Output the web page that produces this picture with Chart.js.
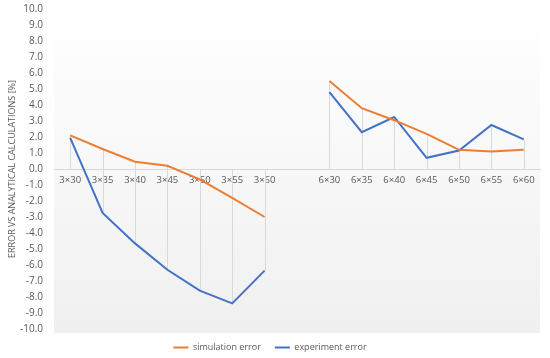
<!DOCTYPE html>
<html><head><meta charset="utf-8">
<script src="https://cdn.jsdelivr.net/npm/chart.js@4.4.0/dist/chart.umd.min.js"></script>
<style>html,body{margin:0;padding:0;background:#fff}#wrap{width:550px;height:358px}</style>
</head><body><div id="wrap"><canvas id="c" width="550" height="358"></canvas></div>
<script>
const categories = ['3×30','3×35','3×40','3×45','3×50','3×55','3×60','','6×30','6×35','6×40','6×45','6×50','6×55','6×60'];
const simulationError = [2.1, 1.25, 0.45, 0.2, -0.65, -1.8, -3.0, null, 5.5, 3.8, 3.05, 2.2, 1.2, 1.1, 1.2];
const experimentError = [1.95, -2.75, -4.65, -6.3, -7.6, -8.4, -6.35, null, 4.8, 2.3, 3.25, 0.7, 1.15, 2.75, 1.85];
const seriesNames = ['simulation error', 'experiment error'];
const yTitle = 'ERROR VS ANALYTICAL CALCULATIONS [%]';

const FONT = '"Open Sans", sans-serif';
const TXT = '#595959';

const bgPlugin = {
  id: 'plotBg',
  beforeDraw(chart) {
    const {ctx, chartArea: a} = chart;
    const g = ctx.createLinearGradient(0, a.top, 0, a.bottom);
    g.addColorStop(0, '#ffffff');
    g.addColorStop(1, '#f0f0f0');
    ctx.save();
    ctx.fillStyle = g;
    ctx.fillRect(a.left, a.top, a.right - a.left, a.bottom - a.top + 4);
    ctx.restore();
  }
};
const dropLines = {
  id: 'dropLines',
  beforeDatasetsDraw(chart) {
    const {ctx, scales: {x, y}} = chart;
    ctx.save();
    ctx.strokeStyle = '#d9d9d9';
    ctx.lineWidth = 1;
    categories.forEach((c, i) => {
      const vals = chart.data.datasets.map(d => d.data[i]).filter(v => v !== null && v !== undefined);
      if (!vals.length) return;
      const hi = Math.max(0, ...vals), lo = Math.min(0, ...vals);
      const px = Math.round(x.getPixelForValue(i)) + 0.5;
      ctx.beginPath();
      ctx.moveTo(px, y.getPixelForValue(hi));
      ctx.lineTo(px, y.getPixelForValue(lo));
      ctx.stroke();
    });
    ctx.restore();
  }
};

new Chart(document.getElementById('c'), {
  type: 'line',
  data: {
    labels: categories,
    datasets: [
      {label: seriesNames[0], data: simulationError, borderColor: '#ED7D31', backgroundColor: '#ED7D31', borderWidth: 2, pointRadius: 0, tension: 0, spanGaps: false},
      {label: seriesNames[1], data: experimentError, borderColor: '#4472C4', backgroundColor: '#4472C4', borderWidth: 2, pointRadius: 0, tension: 0, spanGaps: false}
    ]
  },
  options: {
    responsive: false,
    animation: false,
    layout: {padding: {top: 0, right: 10, left: 0, bottom: -4}},
    plugins: {
      legend: {
        position: 'bottom',
        labels: {font: {family: FONT, size: 9}, color: TXT, usePointStyle: true, pointStyle: 'line', pointStyleWidth: 15, boxHeight: 9, padding: 14}
      },
      tooltip: {enabled: false}
    },
    scales: {
      x: {
        type: 'category',
        position: {y: 0},
        offset: true,
        grid: {display: false, drawTicks: false},
        border: {display: true, color: '#d9d9d9', width: 1},
        ticks: {font: {family: FONT, size: 9.5}, color: TXT, padding: 6, maxRotation: 0, autoSkip: false}
      },
      y: {
        min: -10, max: 10,
        afterFit: s => { s.width = 54; },
        grid: {display: true, drawOnChartArea: false, drawTicks: true, tickLength: 8, color: 'rgba(0,0,0,0)'},
        border: {display: false},
        ticks: {stepSize: 1, font: {family: FONT, size: 10}, color: TXT, padding: 3, callback: v => Number(v).toFixed(1)},
        title: {display: true, text: yTitle, font: {family: FONT, size: 9}, color: TXT, padding: {top: 7, bottom: 0}}
      }
    }
  },
  plugins: [bgPlugin, dropLines]
});
</script></body></html>
